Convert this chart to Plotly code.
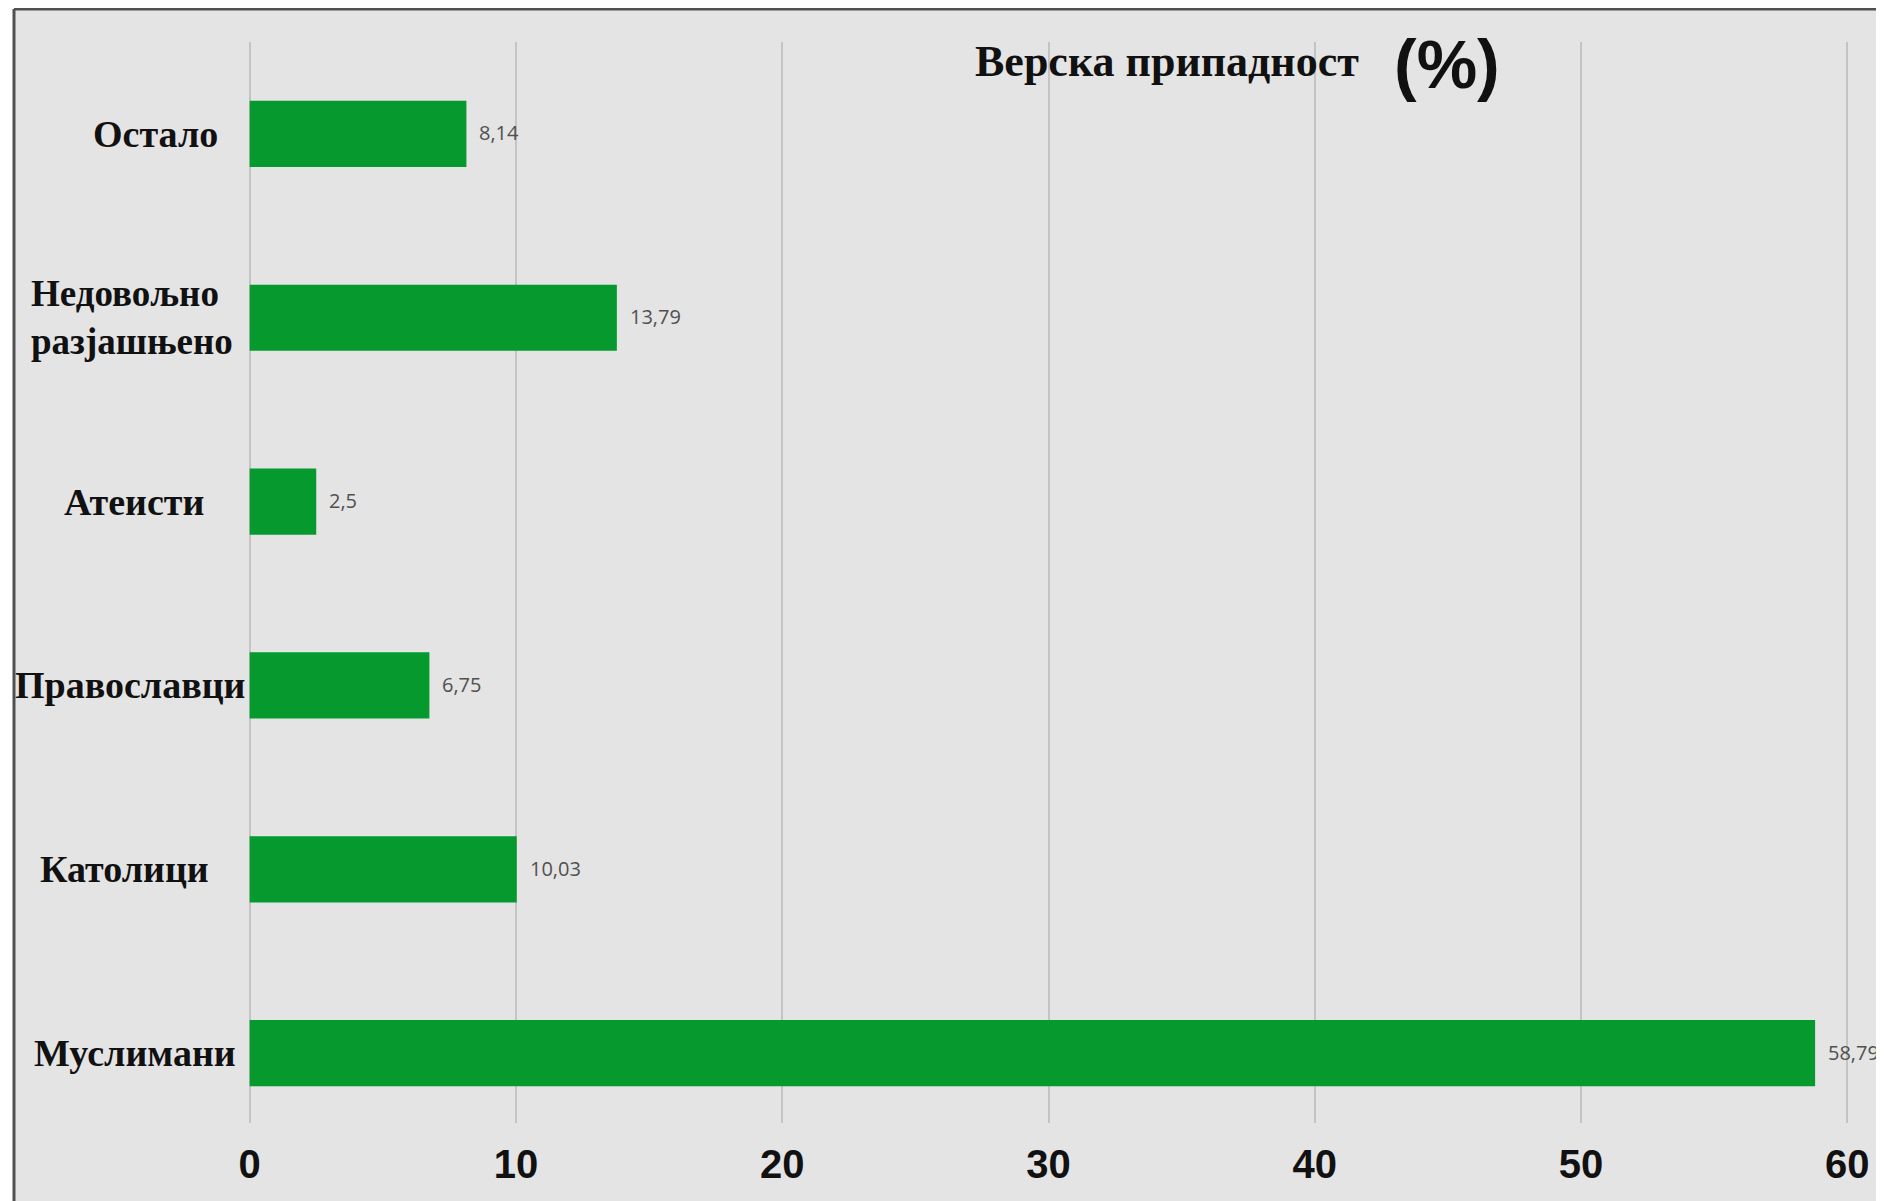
import plotly.graph_objects as go

categories = ["Остало", "Недовољно<br>разјашњено", "Атеисти", "Православци", "Католици", "Муслимани"]
values = [8.14, 13.79, 2.5, 6.75, 10.03, 58.79]
value_labels = ["8,14", "13,79", "2,5", "6,75", "10,03", "58,79"]
x_ticks = [0, 10, 20, 30, 40, 50, 60]

# horizontal placement (page px) of each category label, as in the source image
label_x_px = [155, 29, 134, 130, 124, 135]

OFF = 8  # page body margin
W, H = 1884 - OFF, 1201 - OFF
ML, MR, MT, MB = 239, 34, 34, 78
PW, PH = W - ML - MR, H - MT - MB

def px_x(p):
    return (p - OFF - ML) / PW

def px_y(p):
    return (H - MB - (p - OFF)) / PH

fig = go.Figure()
fig.add_trace(go.Bar(
    x=values, y=categories, orientation="h",
    marker=dict(color="#05992e", line=dict(width=0)),
    width=0.36,
    hoverinfo="x+y",
))

annotations = []
for c, v, lab, lx in zip(categories, values, value_labels, label_x_px):
    annotations.append(dict(
        x=v, xref="x", y=c, yref="y", text=lab, showarrow=False,
        xanchor="left", yanchor="middle", xshift=11, yshift=1,
        font=dict(family="Open Sans, Liberation Sans, sans-serif", size=20, color="#505050"),
    ))
    multi = "<br>" in c
    annotations.append(dict(
        x=px_x(lx), xref="paper", y=c, yref="y", text="<b>%s</b>" % c,
        showarrow=False, xanchor="left" if multi else "center", yanchor="middle", align="left",
        font=dict(family="Liberation Serif, Times New Roman, serif", size=37 if multi else 38, color="#111111"),
    ))
annotations.append(dict(
    x=px_x(1167), xref="paper", y=px_y(62), yref="paper", text="<b>Верска припадност</b>",
    showarrow=False, xanchor="center", yanchor="middle",
    font=dict(family="Liberation Serif, Times New Roman, serif", size=44, color="#111111"),
))
annotations.append(dict(
    x=px_x(1447), xref="paper", y=px_y(64), yref="paper", text="<b>(%)</b>",
    showarrow=False, xanchor="center", yanchor="middle",
    font=dict(family="Liberation Sans, Arial, sans-serif", size=68, color="#111111"),
))

shapes = [
    dict(type="rect", xref="paper", yref="paper", x0=px_x(-20), x1=px_x(14), y0=px_y(H + 40), y1=px_y(-20),
         fillcolor="white", line=dict(width=0), layer="below"),
    dict(type="line", xref="paper", yref="paper", x0=px_x(14), x1=px_x(14), y0=px_y(9), y1=px_y(H + 40),
         line=dict(color="#505050", width=3), layer="below"),
    dict(type="line", xref="paper", yref="paper", x0=px_x(14), x1=px_x(W + 40), y0=px_y(9), y1=px_y(9),
         line=dict(color="#505050", width=3), layer="below"),
]

fig.update_layout(
    width=W, height=H,
    margin=dict(l=ML, r=MR, t=MT, b=MB),
    paper_bgcolor="#e4e4e4", plot_bgcolor="#e4e4e4",
    showlegend=False,
    annotations=annotations,
    shapes=shapes,
    xaxis=dict(
        range=[-0.1, 60.1], tickvals=x_ticks, ticktext=[str(t) for t in x_ticks],
        showgrid=True, gridcolor="#c4c4c4", gridwidth=2, zeroline=False,
        showline=False, ticks="", ticklabelstandoff=14,
        tickfont=dict(family="Liberation Sans, Arial, sans-serif", size=40,
                      color="#111111", weight="bold"),
    ),
    yaxis=dict(
        categoryorder="array", categoryarray=categories, range=[5.38, -0.5],
        showticklabels=False, showgrid=False, zeroline=False, showline=False, ticks="",
    ),
)

fig.write_html("out.html")
